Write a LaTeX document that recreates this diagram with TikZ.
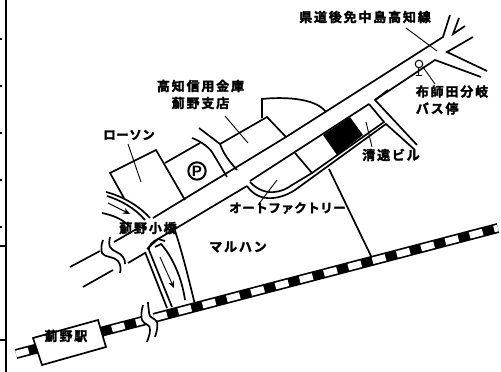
\documentclass[tikz,border=0pt]{standalone}
\usepackage{fontspec}
\usetikzlibrary{arrows.meta}
\newfontfamily\jpA[LetterSpace=14,FakeBold=2.2]{Noto Sans CJK JP Bold}
\newfontfamily\jpB[LetterSpace=4,FakeBold=2.2]{Noto Sans CJK JP Bold}
\tikzset{
  road/.style={line width=1.7pt},
  lead/.style={line width=0.9pt},
  lbl/.style={inner sep=0pt,font=\jpA\fontsize{13}{16}\selectfont,align=center},
  lblk/.style={inner sep=0pt,font=\jpB\fontsize{12.5}{16}\selectfont,align=center},
  flow/.style={line width=0.9pt,-{Stealth[length=7pt,width=6pt]}}
}
\begin{document}
\begin{tikzpicture}[x=1pt,y=-1pt]
\useasboundingbox (0,0) rectangle (501,372);
\fill[white] (0,0) rectangle (501,372);
% left frame and ticks
\draw[line width=1.8pt] (6,0) -- (6,372);
\foreach \yy in {39,86,133,180,227} \draw[line width=1.2pt] (0,\yy) -- (2,\yy);
\foreach \yy in {246,340} \draw[line width=1.2pt] (0,\yy) -- (6,\yy);
% railway
\draw[line width=10pt] (16,354) -- (147,319.8);
\draw[line width=6.6pt,white,dash pattern=on 13pt off 11.8pt] (16,354) -- (147,319.8);
\draw[line width=10pt] (154,317.9) -- (498,228);
\draw[line width=6.6pt,white,dash pattern=on 13.4pt off 11.7pt] (154,317.9) -- (498,228);
% rail break
\fill[white] (143,305) .. controls (141,312) and (141,317) .. (142,320) .. controls (144,325) and (151,324) .. (150,330) .. controls (150,335) and (148,338) .. (147,342) -- (155,337) .. controls (157,331) and (158,326) .. (157,322) .. controls (155,318) and (149,318) .. (149,313) .. controls (149,310) and (148,306) .. (148,302) -- cycle;
\draw[road] (143,305) .. controls (141,312) and (141,317) .. (142,320) .. controls (144,325) and (151,324) .. (150,330) .. controls (150,335) and (148,338) .. (147,342);
\draw[road] (148,302) .. controls (148,306) and (149,310) .. (149,313) .. controls (149,318) and (155,318) .. (157,322) .. controls (158,326) and (157,331) .. (155,337);
% main road, upper line
\draw[road] (450,15) -- (443,37) -- (286,137) -- (153,218);
\draw[road] (114,242) -- (140,227);
\draw[road] (70,267) -- (100,251);
% main road, lower line
\draw[road] (388,90) -- (375,100) -- (417,145);
\draw[road] (487,71) -- (447,52) -- (473,37);
\draw[road] (481,77) -- (435,60) -- (375,100);
\draw[road] (369,104) -- (250,181);
\draw[road] (247,186) -- (158,239) -- (147,249);
\draw[road] (83,287) -- (113,270);
\draw[road] (128,263) -- (145,253);
% junction arrow
\draw[road] (459,18) -- (453,34) -- (465,26);
% road breaks
\draw[road] (103,240) .. controls (101,245) and (101,250) .. (102,253) .. controls (105,258) and (114,256) .. (118,261) .. controls (121,265) and (121,269) .. (120,273);
\draw[road] (110,237) .. controls (109,241) and (109,245) .. (110,247) .. controls (113,252) and (120,252) .. (123,257) .. controls (125,260) and (125,261) .. (125,264);
% Lawson
\draw[road] (124,198) -- (110,173) -- (156,150) -- (185,200);
% parking and bank
\draw[road] (165,163) -- (200,143);
\draw[road] (192,138) .. controls (198,140) and (208,146) .. (212,152) -- (227,177);
\draw[road] (199,128) -- (220,144) .. controls (224,155) and (230,162) .. (237,170);
\draw[road] (220,144) -- (267,117) -- (286,137);
\draw[road] (262,118) -- (262,99) .. controls (280,97) and (315,97) .. (326,112);
% building block
\draw[road] (369,104) -- (384,122) -- (312,173) -- (292,185) .. controls (283,192) and (265,198) .. (250,182);
\draw[road] (295,153) -- (312,173);
\fill (323,135) -- (350,117) -- (363,135) -- (337,155) -- cycle;
\draw[road] (415,150) -- (386,124) -- (295,190) .. controls (283,198) and (260,205) .. (247,186);
\draw[road] (329,169) -- (371,256);
% rivers
\draw[road] (106,192) .. controls (125,197) and (140,207) .. (150,218);
\draw[road] (107,196) .. controls (120,200) and (135,208) .. (145,220);
\draw[road] (102,213) .. controls (112,215) and (123,219) .. (130,227);
\draw[flow] (108,203) -- (130,214);
\draw[road] (175,231) .. controls (180,245) and (188,275) .. (195,305);
\draw[road] (145,252) -- (167,308);
\draw[road] (172,307) -- (149,250) .. controls (148,246) and (153,241) .. (158,239) -- (165,241);
\draw[road] (155,247) -- (161,244) .. controls (172,256) and (182,278) .. (185,300);
\draw[flow] (160,257) -- (174,288);
% bus stop
\draw[line width=1pt] (419,64) circle (3.8);
\draw[line width=1pt] (418.5,68) -- (418.5,75) (415.5,75) -- (421.5,75);
% P mark
\draw[line width=2pt] (197,171) circle (8.7);
\node[inner sep=0pt,font=\fontspec{Liberation Sans}\fontsize{15}{15}\selectfont\bfseries] (pmark) at (197,171) {P};
% leaders
\coordinate (a1) at (406,28); \coordinate (a2) at (437,51);
\draw[lead] (a1) -- (a2);
\coordinate (b1) at (225,116); \coordinate (b2) at (248,143);
\draw[lead] (b1) -- (b2);
\coordinate (c1) at (128,144); \coordinate (c2) at (141,182);
\draw[lead] (c1) -- (c2);
\coordinate (d1) at (423,67); \coordinate (d2) at (435,84);
\draw[lead] (d1) -- (d2);
\coordinate (e1) at (366,122); \coordinate (e2) at (372,147);
\draw[lead] (e1) -- (e2);
\coordinate (f1) at (277,180); \coordinate (f2) at (258,205);
\draw[lead] (f1) -- (f2);
% station
\draw[road,fill=white] (33,338) -- (98,320) -- (106,347) -- (42,365) -- cycle;
% labels
\node[lbl] (kendo) at (365,17) {県道後免中島高知線};
\node[lbl] (bank) at (200.5,94.5) {高知信用金庫\\[1pt]薊野支店};
\node[lblk] (lawson) at (129,135) {ローソン};
\node[lbl,align=left] (bus) at (452,100) {布師田分岐\\[1pt]バス停};
\node[lbl] (seien) at (391,155) {清遠ビル};
\node[lblk] (auto) at (287.5,208) {オートファクトリー};
\node[lbl] (maruhan) at (238,247) {マルハン};
\node[lbl] (bridge) at (148,228) {薊野小橋};
\node[lbl] (station) at (66,336) {薊野駅};
\end{tikzpicture}
\end{document}
